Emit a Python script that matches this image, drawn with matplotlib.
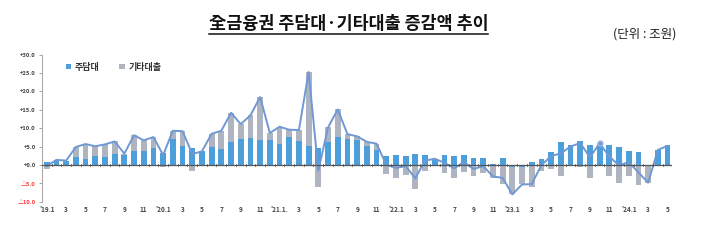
import numpy as np
import matplotlib.pyplot as plt
from matplotlib.lines import Line2D

plt.rcParams['font.family'] = ['Noto Sans CJK KR', 'DejaVu Sans']

# 2019.1 ~ 2024.5 monthly, 조원
mortgage = [0.9, 1.0, 1.1, 2.3, 1.7, 2.5, 2.1, 3.0, 2.7, 3.8, 3.7, 4.5,
            3.2, 7.0, 5.1, 4.6, 3.7, 4.9, 4.3, 6.3, 7.0, 7.3, 6.7, 6.7,
            5.8, 7.7, 6.5, 5.2, 4.5, 6.3, 7.5, 7.0, 6.7, 5.3, 4.0, 2.5,
            2.7, 2.5, 2.9, 2.7, 1.5, 2.7, 2.5, 2.7, 1.9, 1.9, 0.4, 1.8,
            -0.6, -0.5, 0.8, 1.7, 3.4, 6.3, 5.4, 6.5, 5.5, 5.5, 5.4, 4.8,
            3.9, 3.5, 0.1, 4.1, 5.5]
other = [-1.2, 0.4, 0.1, 2.6, 4.0, 2.6, 3.5, 3.4, 0.4, 4.3, 3.0, 3.1,
         -0.5, 2.3, 4.1, -1.6, 0.0, 3.6, 5.0, 7.9, 4.1, 6.2, 11.8, 2.0,
         4.6, 1.9, 3.0, 20.1, -6.0, 3.9, 7.6, 1.4, 1.1, 1.0, 1.8, -2.4,
         -3.5, -2.8, -6.5, -1.5, 0.2, -2.1, -3.4, -1.9, -3.0, -2.2, -3.5, -5.3,
         -7.4, -4.8, -6.0, -1.7, -1.0, -3.1, -0.4, -0.5, -3.4, 0.4, -3.1, -4.9,
         -3.1, -5.5, -4.9, 0.0, -0.3]
xlabels = ["'19.1", "3", "5", "7", "9", "11",
           "'20.1", "3", "5", "7", "9", "11",
           "'21.1.", "3", "5", "7", "9", "11",
           "'22.1", "3", "5", "7", "9", "11",
           "'23.1", "3", "5", "7", "9", "11",
           "'24.1", "3", "5"]
yticks = [30, 25, 20, 15, 10, 5, 0, -5, -10]
ylabels = ["+30.0", "+25.0", "+20.0", "+15.0", "+10.0", "+5.0", "+0.0", "△5.0", "△10.0"]

mortgage = np.array(mortgage)
other = np.array(other)
total = mortgage + other
x = np.arange(len(mortgage))
same_sign = np.sign(other) == np.sign(mortgage)
other_bottom = np.where(same_sign, mortgage, 0)

fig = plt.figure(figsize=(7.1, 2.44), dpi=100)
ax = fig.add_axes([0.059, 0.173, 0.888, 0.603])

ax.bar(x, mortgage, width=0.6, color='#4d9fdc', label='주담대', zorder=2)
ax.bar(x, other, width=0.6, bottom=other_bottom, color='#aeb5c1', label='기타대출', zorder=2)
ax.plot(x, total, color='#6f98d4', lw=1.4, zorder=3,
        marker='o', markevery=[57], ms=3.5, mfc='#6f98d4', mec='#9db9e3')

ax.axhline(0, color='#555555', lw=0.9, zorder=4)
for xi in x:
    ax.plot([xi + 0.5, xi + 0.5], [-0.25, 0.25], color='#555555', lw=0.6, zorder=4)

ax.set_xlim(-0.5, len(x) - 0.5)
ax.set_ylim(-10, 30)
ax.set_yticks(yticks)
ax.set_yticklabels(ylabels)
for lab, v in zip(ax.get_yticklabels(), yticks):
    lab.set_color('#ff3b3b' if v < 0 else '#444444')
    lab.set_fontsize(4.2)
    lab.set_fontweight('bold')
ax.tick_params(axis='y', length=2.5, width=0.6, color='#999999', pad=2)

ax.set_xticks(x[::2])
ax.set_xticklabels(xlabels, fontsize=4.6, fontweight='bold', color='#444444')
ax.tick_params(axis='x', length=0, pad=3)

for s in ['top', 'right', 'bottom']:
    ax.spines[s].set_visible(False)
ax.spines['left'].set_color('#aaaaaa')
ax.spines['left'].set_linewidth(0.8)

leg = ax.legend(loc='upper left', bbox_to_anchor=(0.025, 1.0), ncol=2, frameon=False,
                prop={'size': 6.5, 'weight': 'bold'}, handlelength=0.6, handleheight=0.6,
                handletextpad=0.4, columnspacing=2.2)
for t in leg.get_texts():
    t.set_color('#333333')

title = fig.text(0.491, 0.9, '全금융권 주담대·기타대출 증감액 추이', ha='center', va='center',
                 fontsize=12.5, fontweight='bold', color='#111111')
fig.text(0.952, 0.862, '(단위 : 조원)', ha='right', va='center', fontsize=9, color='#222222')

fig.canvas.draw()
bb = title.get_window_extent().transformed(fig.transFigure.inverted())
fig.add_artist(Line2D([bb.x0, bb.x1], [bb.y0 - 0.004, bb.y0 - 0.004],
                      transform=fig.transFigure, color='#111111', lw=1.1))

fig.savefig('out.png', dpi=100)
